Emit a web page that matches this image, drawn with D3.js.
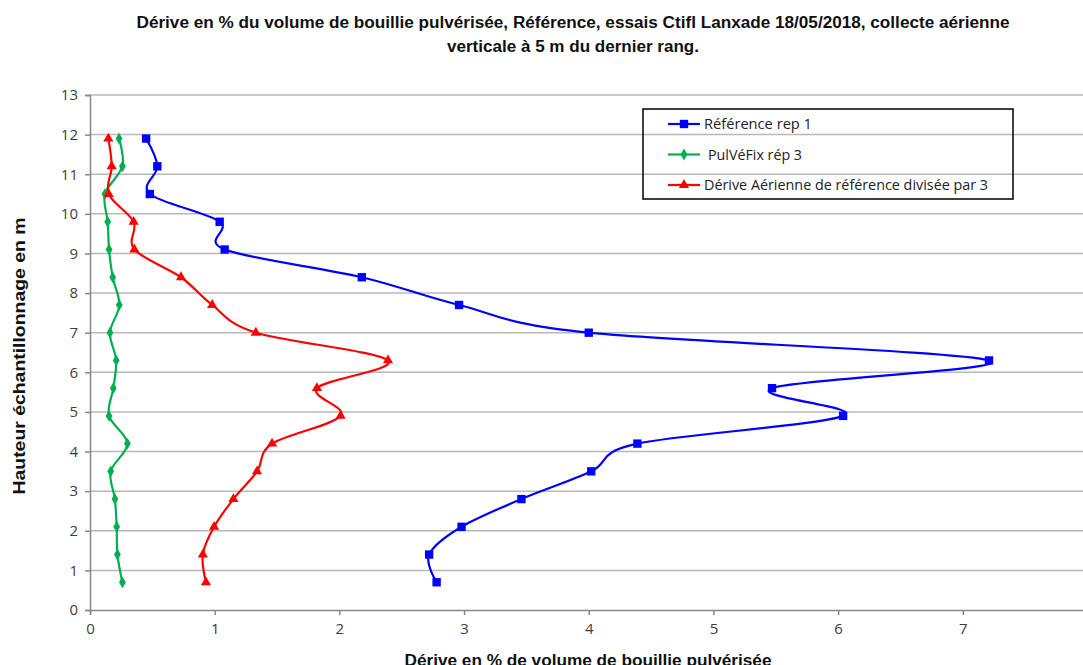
<!DOCTYPE html>
<html><head><meta charset="utf-8">
<script src="https://cdn.jsdelivr.net/npm/d3@7"></script>
<style>body{margin:0;background:#fff}svg{display:block}</style>
</head><body>
<svg id="c" width="1083" height="665"></svg>
<script>
const heights = [0.7,1.4,2.1,2.8,3.5,4.2,4.9,5.6,6.3,7.0,7.7,8.4,9.1,9.8,10.5,11.2,11.9];
const refRep1 = [2.78,2.72,2.98,3.46,4.02,4.39,6.04,5.47,7.21,4.0,2.96,2.18,1.08,1.04,0.48,0.54,0.45];
const pulvefix = [0.26,0.22,0.214,0.2,0.166,0.30,0.153,0.187,0.21,0.16,0.235,0.182,0.153,0.142,0.12,0.26,0.233];
const refDiv3 = [0.93,0.905,0.995,1.15,1.34,1.46,2.01,1.82,2.39,1.33,0.98,0.73,0.356,0.35,0.15,0.174,0.147];
const xTicks = [0,1,2,3,4,5,6,7,8];
const yTicks = [0,1,2,3,4,5,6,7,8,9,10,11,12,13];
const seriesNames = ["Référence rep 1","PulVéFix rép 3","Dérive Aérienne de référence divisée par 3"];

const svg = d3.select("#c");
const x = d3.scaleLinear().domain([0,8]).range([90,1087.5]);
const y = d3.scaleLinear().domain([0,13]).range([610,95]);
const font = "'Liberation Sans Narrow','Liberation Sans',Arial,sans-serif";
const lfont = "'Open Sans','Liberation Sans',sans-serif";

// gridlines
svg.append("g").selectAll("line").data(yTicks.slice(1)).join("line")
  .attr("x1",x(0)).attr("x2",1083).attr("y1",d=>y(d)).attr("y2",d=>y(d))
  .attr("stroke","#b8b8b8").attr("stroke-width",1.5);

// axes
const xa = svg.append("g").attr("transform",`translate(0,${y(0)})`)
  .call(d3.axisBottom(x).tickValues(xTicks).tickSize(5).tickPadding(8).tickFormat(d3.format("d")));
const ya = svg.append("g").attr("transform",`translate(${x(0)},0)`)
  .call(d3.axisLeft(y).tickValues(yTicks).tickSize(5).tickPadding(7).tickFormat(d3.format("d")));
[xa,ya].forEach(a=>{
  a.select(".domain").attr("stroke","#888").attr("stroke-width",1.5);
  a.selectAll(".tick line").attr("stroke","#888").attr("stroke-width",1.5);
  a.selectAll(".tick text").attr("fill","#404040").style("font-family",lfont).style("font-size","15px");
});

const line = d3.line().x(d=>x(d[0])).y(d=>y(d[1])).curve(d3.curveCatmullRom.alpha(0));

const series = [
  {name:seriesNames[0], vals:refRep1, color:"#0000ff", sym:d3.symbolSquare, size:70, tl:108},
  {name:seriesNames[1], vals:pulvefix, color:"#00b050", sym:d3.symbolDiamond, size:40, tl:94},
  {name:seriesNames[2], vals:refDiv3, color:"#ff0000", sym:d3.symbolTriangle, size:45, tl:284}
];
series.forEach(s=>{
  const pts = s.vals.map((v,i)=>[v,heights[i]]);
  svg.append("path").attr("d",line(pts)).attr("fill","none").attr("stroke",s.color).attr("stroke-width",2.2);
  svg.append("g").selectAll("path").data(pts).join("path")
    .attr("d",d3.symbol().type(s.sym).size(s.size))
    .attr("transform",d=>`translate(${x(d[0])},${y(d[1])})`)
    .attr("fill",s.color);
});

// legend
const lg = svg.append("g");
lg.append("rect").attr("x",643).attr("y",109).attr("width",370).attr("height",90)
  .attr("fill","none").attr("stroke","#000").attr("stroke-width",1.5);
series.forEach((s,i)=>{
  const yy = 124 + i*30.5;
  lg.append("line").attr("x1",668).attr("x2",700).attr("y1",yy).attr("y2",yy).attr("stroke",s.color).attr("stroke-width",2.2);
  lg.append("path").attr("d",d3.symbol().type(s.sym).size(s.size)).attr("transform",`translate(684,${yy})`).attr("fill",s.color);
  lg.append("text").attr("x",i===1?708:704).attr("y",yy+5).text(s.name)
    .attr("textLength",s.tl).attr("lengthAdjust","spacingAndGlyphs")
    .style("font-family",lfont).style("font-size","14px").attr("fill","#222");
});

// titles
const t = svg.append("text").attr("text-anchor","middle").style("font-family",font).style("font-weight","bold").style("font-size","16px").attr("fill","#111");
t.append("tspan").attr("x",573).attr("y",28).attr("textLength",873).attr("lengthAdjust","spacingAndGlyphs").text("Dérive en % du volume de bouillie pulvérisée, Référence, essais Ctifl Lanxade 18/05/2018, collecte aérienne");
t.append("tspan").attr("x",573).attr("y",52).attr("textLength",252).attr("lengthAdjust","spacingAndGlyphs").text("verticale à 5 m du dernier rang.");

svg.append("text").attr("transform","translate(25,356) rotate(-90)").attr("text-anchor","middle")
  .style("font-family",font).style("font-weight","bold").style("font-size","16px").attr("fill","#111")
  .attr("textLength",277).attr("lengthAdjust","spacingAndGlyphs").text("Hauteur échantillonnage en m");
svg.append("text").attr("x",588).attr("y",666).attr("text-anchor","middle")
  .style("font-family",font).style("font-weight","bold").style("font-size","16px").attr("fill","#111")
  .attr("textLength",367).attr("lengthAdjust","spacingAndGlyphs").text("Dérive en % de volume de bouillie pulvérisée");
</script>
</body></html>
